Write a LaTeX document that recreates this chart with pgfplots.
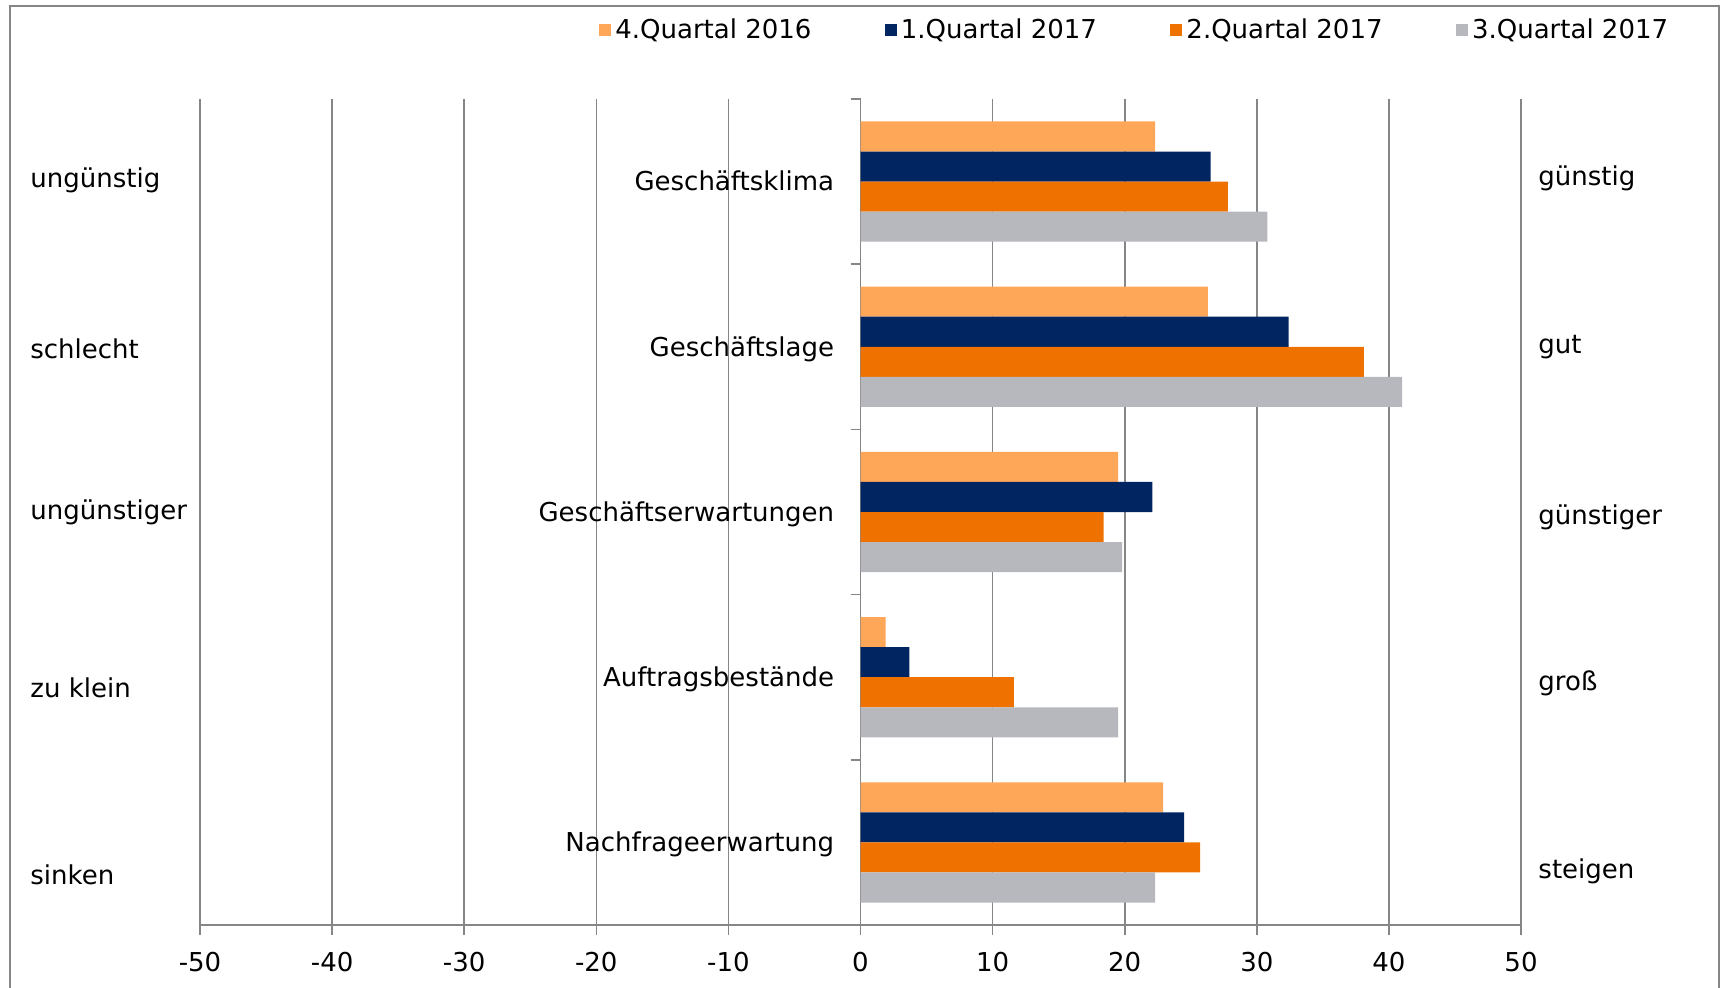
\documentclass[border=0pt]{standalone}
\usepackage{fontspec}
\setmainfont{DejaVu Sans}
\usepackage{pgfplots}
\pgfplotsset{compat=1.18}
\definecolor{cA}{RGB}{255,167,89}
\definecolor{cB}{RGB}{0,37,97}
\definecolor{cC}{RGB}{239,113,0}
\definecolor{cD}{RGB}{183,184,189}
\definecolor{gridg}{RGB}{134,134,134}
\pgfplotsset{sqlegend/.style={legend image code/.code={\fill[##1] (0pt,-3.2pt) rectangle (6pt,3.2pt);}}}
\begin{document}
\begin{tikzpicture}
\useasboundingbox (0,0) rectangle (861.5pt,494pt);
\draw[gridg, line width=1pt] (5pt,-2pt) -- (5pt,491pt) -- (859.5pt,491pt) -- (859.5pt,-2pt);
\begin{axis}[
  at={(100pt,31.5pt)}, anchor=south west,
  scale only axis, width=660.5pt, height=413pt,
  font=\fontsize{13pt}{15.6pt}\selectfont,
  /pgf/number format/assume math mode=true,
  xbar, bar width=0.182,
  xmin=-50, xmax=50, ymin=-0.5, ymax=4.5, y dir=reverse,
  xtick={-50,-40,...,50},
  axis x line*=bottom, axis y line*=middle,
  x axis line style={gridg, line width=1.2pt},
  y axis line style={gridg, line width=0.8pt},
  xtick align=outside, xtick style={gridg, line width=0.8pt},
  major tick length=5pt,
  ytick={-0.5,0.5,1.5,2.5,3.5,4.5}, yticklabels={},
  ytick align=outside, ytick style={gridg, line width=0.8pt},
  xmajorgrids, grid style={gridg, line width=0.8pt},
  xticklabel style={yshift=-5pt},
  clip=false,
  legend columns=4,
  legend style={draw=none, fill=none, at={(0.302,1.0835)}, anchor=west, inner sep=0pt,
    /tikz/every even column/.append style={column sep=34.7pt},
    font=\fontsize{13pt}{15.6pt}\selectfont},
]
\addplot[fill=cA, draw=none, bar shift=-0.273, sqlegend] coordinates {(22.3,0) (26.3,1) (19.5,2) (1.9,3) (22.9,4)};
\addplot[fill=cB, draw=none, bar shift=-0.091, sqlegend] coordinates {(26.5,0) (32.4,1) (22.1,2) (3.7,3) (24.5,4)};
\addplot[fill=cC, draw=none, bar shift=0.091, sqlegend] coordinates {(27.8,0) (38.1,1) (18.4,2) (11.6,3) (25.7,4)};
\addplot[fill=cD, draw=none, bar shift=0.273, sqlegend] coordinates {(30.8,0) (41.0,1) (19.8,2) (19.5,3) (22.3,4)};
\legend{4.Quartal 2016,1.Quartal 2017,2.Quartal 2017,3.Quartal 2017}
\begin{scope}[every node/.style={inner sep=0pt, text height=1.6ex, text depth=0.3ex, yshift=-1.1pt}]
\node[anchor=east, xshift=-13pt] at (axis cs:0,0) {Geschäftsklima};
\node[anchor=east, xshift=-13pt] at (axis cs:0,1) {Geschäftslage};
\node[anchor=east, xshift=-13pt] at (axis cs:0,2) {Geschäftserwartungen};
\node[anchor=east, xshift=-13pt] at (axis cs:0,3) {Auftragsbestände};
\node[anchor=east, xshift=-13pt] at (axis cs:0,4) {Nachfrageerwartung};
\node[anchor=west] at (axis cs:-62.87,-0.02) {ungünstig};
\node[anchor=west] at (axis cs:-62.87,1.016) {schlecht};
\node[anchor=west] at (axis cs:-62.87,1.988) {ungünstiger};
\node[anchor=west] at (axis cs:-62.87,3.065) {zu klein};
\node[anchor=west] at (axis cs:-62.87,4.197) {sinken};
\node[anchor=west] at (axis cs:51.29,-0.034) {günstig};
\node[anchor=west] at (axis cs:51.29,0.983) {gut};
\node[anchor=west] at (axis cs:51.29,2.018) {günstiger};
\node[anchor=west] at (axis cs:51.29,3.023) {groß};
\node[anchor=west] at (axis cs:51.29,4.161) {steigen};
\end{scope}
\end{axis}
\end{tikzpicture}
\end{document}
